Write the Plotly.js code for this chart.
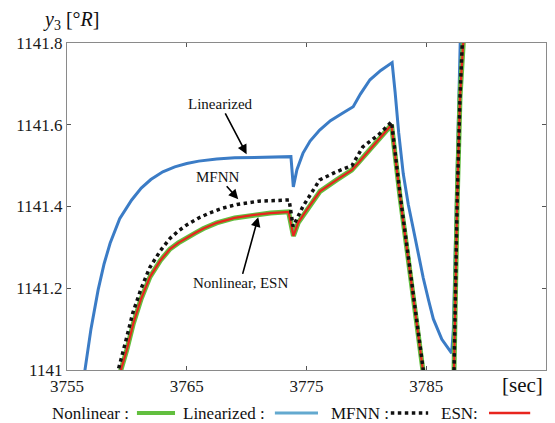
<!DOCTYPE html>
<html>
<head>
<meta charset="utf-8">
<script src="https://cdn.plot.ly/plotly-3.0.1.min.js"></script>
<style>html,body{margin:0;padding:0;background:#fff;}#chart{width:555px;height:423px;}</style>
</head>
<body>
<div id="chart"></div>
<script>
// Linearized model (blue)
const linT = [3756.2, 3756.5, 3757.0, 3757.6, 3758.1, 3758.6, 3759.4, 3760.4, 3761.2, 3762.0, 3763.0, 3764.0, 3765.0, 3766.0, 3767.5, 3769.0, 3771.0, 3773.7, 3773.9, 3774.2, 3774.7, 3775.3, 3776.1, 3777.0, 3778.0, 3778.9, 3779.5, 3780.3, 3781.2, 3782.15, 3782.4, 3782.7, 3783.08, 3783.5, 3783.92, 3784.35, 3784.75, 3785.2, 3785.59, 3786.3, 3787.12, 3787.26, 3787.5, 3787.68, 3787.85, 3788.0];
const linY = [1140.94, 1141.0, 1141.10, 1141.196, 1141.26, 1141.31, 1141.37, 1141.416, 1141.445, 1141.466, 1141.485, 1141.497, 1141.505, 1141.511, 1141.516, 1141.519, 1141.521, 1141.522, 1141.448, 1141.49, 1141.53, 1141.56, 1141.587, 1141.61, 1141.628, 1141.644, 1141.675, 1141.71, 1141.733, 1141.752, 1141.68, 1141.58, 1141.48, 1141.405, 1141.345, 1141.28, 1141.225, 1141.17, 1141.125, 1141.075, 1141.041, 1141.098, 1141.40, 1141.669, 1141.82, 1142.0];

// Nonlinear model (green) and ESN (red)
const nlT = [3759.35, 3759.5, 3759.99, 3760.54, 3761.2, 3761.93, 3762.8, 3763.6, 3764.3, 3765.0, 3765.7, 3766.4, 3767.5, 3769.0, 3770.5, 3772.0, 3773.5, 3773.91, 3774.3, 3775.0, 3776.13, 3777.52, 3778.77, 3779.3, 3780.6, 3782.1, 3782.81, 3783.64, 3784.75, 3784.9, 3787.25, 3787.32, 3787.59, 3787.82, 3788.09, 3788.3];
const nlY = [1140.97, 1141.0, 1141.049, 1141.114, 1141.175, 1141.228, 1141.268, 1141.296, 1141.311, 1141.324, 1141.335, 1141.346, 1141.360, 1141.372, 1141.379, 1141.384, 1141.387, 1141.328, 1141.36, 1141.391, 1141.437, 1141.465, 1141.489, 1141.506, 1141.55, 1141.6, 1141.424, 1141.245, 1141.0, 1140.96, 1140.96, 1141.0, 1141.424, 1141.669, 1141.8, 1142.0];
const esnY = [1140.97, 1141.0, 1141.049, 1141.114, 1141.175, 1141.228, 1141.268, 1141.296, 1141.311, 1141.324, 1141.335, 1141.346, 1141.360, 1141.372, 1141.379, 1141.384, 1141.387, 1141.328, 1141.36, 1141.391, 1141.437, 1141.465, 1141.489, 1141.506, 1141.55, 1141.6, 1141.424, 1141.245, 1141.0, 1140.96, 1140.96, 1141.0, 1141.424, 1141.669, 1141.8, 1142.0];

// MFNN (black dotted)
const mfT = [3759.15, 3759.28, 3759.9, 3760.5, 3761.2, 3761.9, 3762.8, 3763.6, 3764.3, 3765.0, 3766.0, 3766.9, 3768.0, 3769.2, 3771.0, 3773.55, 3773.88, 3774.2, 3774.7, 3776.1, 3777.5, 3778.8, 3779.7, 3781.0, 3782.1, 3782.81, 3783.64, 3784.75, 3784.9, 3787.25, 3787.32, 3787.59, 3787.82, 3788.09, 3788.3];
const mfY = [1140.97, 1141.0, 1141.07, 1141.14, 1141.20, 1141.25, 1141.292, 1141.322, 1141.34, 1141.355, 1141.372, 1141.384, 1141.396, 1141.405, 1141.413, 1141.416, 1141.351, 1141.37, 1141.40, 1141.465, 1141.485, 1141.50, 1141.546, 1141.575, 1141.607, 1141.43, 1141.25, 1141.0, 1140.96, 1140.96, 1141.0, 1141.424, 1141.669, 1141.8, 1142.0];

const xTicks = [3755, 3765, 3775, 3785];
const yTicks = [1141, 1141.2, 1141.4, 1141.6, 1141.8];
const yTickText = ['1141', '1141.2', '1141.4', '1141.6', '1141.8'];
const legendLabels = ['Nonlinear :', 'Linearized :', 'MFNN :', 'ESN:'];

const SERIF = 'Liberation Serif';
const C_BLUE = '#3b7cc6', C_GREEN = '#62bf3f', C_RED = '#e8251e', C_BLACK = '#111111', C_LEG_BLUE = '#63a9cf';

const traces = [
  {x: linT, y: linY, mode: 'lines', line: {color: C_BLUE, width: 3}, hoverinfo: 'skip'},
  {x: nlT, y: nlY, mode: 'lines', line: {color: C_GREEN, width: 5}, hoverinfo: 'skip'},
  {x: nlT, y: esnY, mode: 'lines', line: {color: C_RED, width: 2.2}, hoverinfo: 'skip'},
  {x: mfT, y: mfY, mode: 'lines', line: {color: C_BLACK, width: 3.5, dash: 'dot'}, hoverinfo: 'skip'}
];

const legY = -0.1315;
const axisFont = {family: SERIF, size: 17, color: '#1a1a1a'};
const annFont = {family: SERIF, size: 15, color: '#111'};

const layout = {
  width: 555, height: 423,
  margin: {l: 67, r: 9, t: 43, b: 53},
  paper_bgcolor: '#fff', plot_bgcolor: '#fff',
  showlegend: false,
  font: {family: SERIF},
  xaxis: {
    range: [3755, 3795], tickvals: xTicks, ticks: 'inside', ticklen: 4, tickcolor: '#555',
    showline: true, mirror: 'ticks', linecolor: '#8a8a8a', linewidth: 1.2,
    showgrid: false, zeroline: false, tickfont: axisFont, fixedrange: true
  },
  yaxis: {
    range: [1141, 1141.8], tickvals: yTicks, ticktext: yTickText, ticks: 'inside', ticklen: 4, tickcolor: '#555',
    showline: true, mirror: 'ticks', linecolor: '#8a8a8a', linewidth: 1.2,
    showgrid: false, zeroline: false, tickfont: axisFont, fixedrange: true
  },
  annotations: [
    {xref: 'paper', yref: 'paper', x: -0.054, y: 1.07, xanchor: 'left', yanchor: 'middle', showarrow: false,
     text: '<i>y</i><sub>3</sub> [°<i>R</i>]', font: {family: SERIF, size: 20, color: '#111'}},
    {xref: 'paper', yref: 'paper', x: 0.905, y: -0.045, xanchor: 'left', yanchor: 'middle', showarrow: false,
     text: '[sec]', font: {family: SERIF, size: 21, color: '#111'}},
    {xref: 'paper', yref: 'paper', x: -0.036, y: legY, xanchor: 'left', yanchor: 'middle', showarrow: false, text: legendLabels[0], font: {family: SERIF, size: 17, color: '#111'}},
    {xref: 'paper', yref: 'paper', x: 0.238, y: legY, xanchor: 'left', yanchor: 'middle', showarrow: false, text: legendLabels[1], font: {family: SERIF, size: 17, color: '#111'}},
    {xref: 'paper', yref: 'paper', x: 0.547, y: legY, xanchor: 'left', yanchor: 'middle', showarrow: false, text: legendLabels[2], font: {family: SERIF, size: 17, color: '#111'}},
    {xref: 'paper', yref: 'paper', x: 0.777, y: legY, xanchor: 'left', yanchor: 'middle', showarrow: false, text: legendLabels[3], font: {family: SERIF, size: 17, color: '#111'}},
    {x: 3770.0, y: 1141.528, axref: 'x', ayref: 'y', ax: 3767.8, ay: 1141.651, text: 'Linearized', font: annFont,
     showarrow: true, arrowhead: 2, arrowsize: 1.2, arrowwidth: 1.6, arrowcolor: '#000'},
    {x: 3769.3, y: 1141.418, axref: 'x', ayref: 'y', ax: 3767.63, ay: 1141.473, text: 'MFNN', font: annFont,
     showarrow: true, arrowhead: 2, arrowsize: 1.2, arrowwidth: 1.6, arrowcolor: '#000'},
    {x: 3770.97, y: 1141.374, axref: 'x', ayref: 'y', ax: 3769.45, ay: 1141.212, text: 'Nonlinear, ESN', font: annFont,
     showarrow: true, arrowhead: 2, arrowsize: 1.2, arrowwidth: 1.6, arrowcolor: '#000'}
  ],
  shapes: [
    {type: 'line', xref: 'paper', yref: 'paper', x0: 0.146, x1: 0.2255, y0: legY, y1: legY, line: {color: C_GREEN, width: 4}},
    {type: 'line', xref: 'paper', yref: 'paper', x0: 0.434, x1: 0.524, y0: legY, y1: legY, line: {color: C_LEG_BLUE, width: 3}},
    {type: 'line', xref: 'paper', yref: 'paper', x0: 0.676, x1: 0.754, y0: legY, y1: legY, line: {color: C_BLACK, width: 3.5, dash: 'dot'}},
    {type: 'line', xref: 'paper', yref: 'paper', x0: 0.881, x1: 0.967, y0: legY, y1: legY, line: {color: C_RED, width: 2.5}}
  ]
};

Plotly.newPlot('chart', traces, layout, {displayModeBar: false, staticPlot: true});
</script>
</body>
</html>
